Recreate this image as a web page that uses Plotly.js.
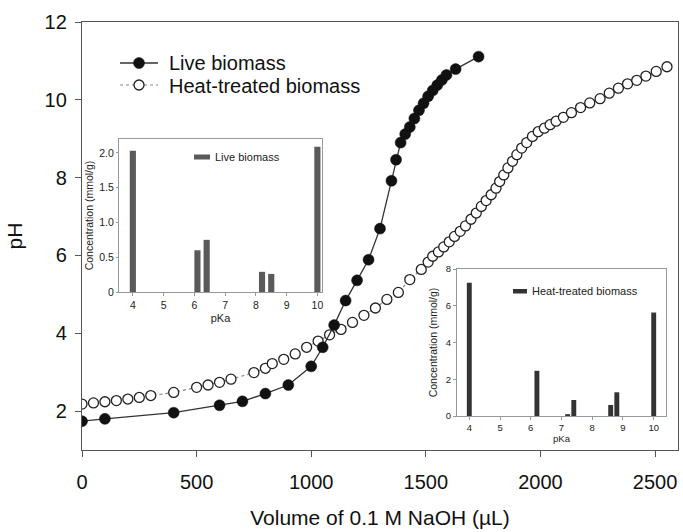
<!DOCTYPE html>
<html>
<head>
<meta charset="utf-8">
<script src="https://cdn.plot.ly/plotly-3.0.1.min.js"></script>
<style>html,body{margin:0;padding:0;background:#fff;}#chart{width:683px;height:532px;}</style>
</head>
<body>
<div id="chart"></div>
<script>
// Main titration curves
const liveVolume = [0, 100, 400, 600, 700, 800, 900, 1000, 1050, 1100, 1150, 1200, 1250, 1300, 1350, 1370, 1390, 1410, 1430, 1450, 1470, 1490, 1510, 1530, 1550, 1570, 1590, 1630, 1730];
const livePH = [1.74, 1.80, 1.96, 2.15, 2.25, 2.45, 2.67, 3.15, 3.64, 4.21, 4.84, 5.36, 5.89, 6.69, 7.92, 8.46, 8.90, 9.12, 9.30, 9.52, 9.73, 9.91, 10.09, 10.24, 10.38, 10.51, 10.64, 10.79, 11.11];

const heatVolume = [0, 50, 100, 150, 200, 250, 300, 400, 500, 550, 600, 650, 750, 800, 830, 880, 930, 980, 1030, 1080, 1130, 1180, 1230, 1280, 1330, 1380, 1430, 1480, 1510, 1530, 1555, 1578, 1602, 1625, 1650, 1673, 1697, 1720, 1742, 1763, 1785, 1806, 1822, 1840, 1858, 1878, 1897, 1918, 1940, 1965, 1990, 2017, 2042, 2068, 2100, 2135, 2175, 2215, 2260, 2300, 2340, 2380, 2420, 2460, 2505, 2552];
const heatPH = [2.18, 2.21, 2.24, 2.27, 2.31, 2.35, 2.40, 2.48, 2.61, 2.67, 2.74, 2.82, 2.99, 3.10, 3.22, 3.33, 3.47, 3.64, 3.80, 3.96, 4.10, 4.28, 4.46, 4.65, 4.87, 5.05, 5.38, 5.64, 5.83, 5.98, 6.09, 6.22, 6.35, 6.49, 6.62, 6.76, 6.93, 7.09, 7.26, 7.41, 7.56, 7.73, 7.90, 8.07, 8.25, 8.42, 8.59, 8.76, 8.90, 9.06, 9.18, 9.27, 9.36, 9.45, 9.55, 9.67, 9.80, 9.92, 10.03, 10.17, 10.30, 10.41, 10.50, 10.61, 10.73, 10.85];

// Inset: live biomass pKa distribution
const livePKa = [4.0, 6.1, 6.4, 8.2, 8.5, 10.0];
const liveConc = [2.03, 0.60, 0.75, 0.29, 0.26, 2.09];

// Inset: heat-treated biomass pKa distribution
const heatPKa = [4.0, 6.2, 7.2, 7.4, 8.6, 8.8, 10.0];
const heatConc = [7.25, 2.46, 0.10, 0.87, 0.60, 1.29, 5.63];

const mainTitles = {x: 'Volume of 0.1 M NaOH (µL)', y: 'pH'};
const insetTitles = {x: 'pKa', y: 'Concentration (mmol/g)'};
const seriesNames = ['Live biomass', 'Heat-treated biomass'];

const FONT = 'Liberation Sans, Arial, sans-serif';

const traces = [
  {
    x: heatVolume, y: heatPH, type: 'scatter', mode: 'lines+markers',
    name: seriesNames[1], showlegend: false,
    line: {color: '#888', width: 1.2, dash: 'dot'},
    marker: {symbol: 'circle', size: 10, color: '#fff', line: {color: '#222', width: 1.3}},
    xaxis: 'x', yaxis: 'y'
  },
  {
    x: liveVolume, y: livePH, type: 'scatter', mode: 'lines+markers',
    name: seriesNames[0], showlegend: false,
    line: {color: '#333', width: 1.3},
    marker: {symbol: 'circle', size: 11, color: '#111', line: {color: '#111', width: 0.5}},
    xaxis: 'x', yaxis: 'y'
  },
  {
    x: livePKa, y: liveConc, type: 'bar', width: 0.2, showlegend: false,
    marker: {color: '#5a5a5a'}, xaxis: 'x2', yaxis: 'y2', name: seriesNames[0]
  },
  {
    x: heatPKa, y: heatConc, type: 'bar', width: 0.16, showlegend: false,
    marker: {color: '#333'}, xaxis: 'x3', yaxis: 'y3', name: seriesNames[1]
  }
];

function px2x(p) { return (p - 82) / 596; }
function py2y(p) { return (450 - p) / 428; }

const insetAxis = (extra) => Object.assign({
  showline: true, mirror: true, linecolor: '#999', linewidth: 1,
  ticks: 'outside', ticklen: 3, tickcolor: '#999', showgrid: false, zeroline: false,
  tickfont: {family: FONT, size: 10.5, color: '#222'}
}, extra);

const legendShapes = [
  // main legend row 1 (Live biomass)
  {type: 'line', xref: 'paper', yref: 'paper', x0: px2x(120), x1: px2x(158), y0: py2y(63), y1: py2y(63),
   line: {color: '#333', width: 1.3}},
  {type: 'circle', xref: 'paper', yref: 'paper', x0: px2x(133.5), x1: px2x(144.5), y0: py2y(68.5), y1: py2y(57.5),
   fillcolor: '#111', line: {color: '#111', width: 0.5}},
  // main legend row 2 (Heat-treated biomass)
  {type: 'line', xref: 'paper', yref: 'paper', x0: px2x(120), x1: px2x(158), y0: py2y(85), y1: py2y(85),
   line: {color: '#888', width: 1.2, dash: 'dot'}},
  {type: 'circle', xref: 'paper', yref: 'paper', x0: px2x(134), x1: px2x(144), y0: py2y(90), y1: py2y(80),
   fillcolor: '#fff', line: {color: '#222', width: 1.3}},
  // inset legends
  {type: 'rect', xref: 'paper', yref: 'paper', x0: px2x(194), x1: px2x(210), y0: py2y(159.5), y1: py2y(154.5),
   fillcolor: '#5a5a5a', line: {width: 0}},
  {type: 'rect', xref: 'paper', yref: 'paper', x0: px2x(513), x1: px2x(527), y0: py2y(293.5), y1: py2y(289),
   fillcolor: '#333', line: {width: 0}}
];

const legendTexts = [
  {xref: 'paper', yref: 'paper', x: px2x(167), y: py2y(63), xanchor: 'left', yanchor: 'middle',
   text: seriesNames[0], showarrow: false, font: {family: FONT, size: 20, color: '#111'}},
  {xref: 'paper', yref: 'paper', x: px2x(167), y: py2y(86), xanchor: 'left', yanchor: 'middle',
   text: seriesNames[1], showarrow: false, font: {family: FONT, size: 20, color: '#111'}},
  {xref: 'paper', yref: 'paper', x: px2x(213), y: py2y(157), xanchor: 'left', yanchor: 'middle',
   text: seriesNames[0], showarrow: false, font: {family: FONT, size: 11, color: '#222'}},
  {xref: 'paper', yref: 'paper', x: px2x(530), y: py2y(291), xanchor: 'left', yanchor: 'middle',
   text: seriesNames[1], showarrow: false, font: {family: FONT, size: 11, color: '#222'}}
];

const layout = {
  width: 683, height: 532,
  margin: {l: 82, r: 5, t: 22, b: 82},
  paper_bgcolor: '#fff', plot_bgcolor: 'rgba(0,0,0,0)',
  font: {family: FONT, color: '#111'},
  showlegend: false,
  xaxis: {
    domain: [0, 1], range: [0, 2600], tickvals: [0, 500, 1000, 1500, 2000, 2500],
    showline: true, mirror: true, linecolor: '#555', linewidth: 1.2,
    ticks: 'outside', ticklen: 6, tickcolor: '#555', showgrid: false, zeroline: false,
    ticklabelstandoff: 8,
    tickfont: {family: FONT, size: 20, color: '#111'},
    title: {text: mainTitles.x, font: {family: FONT, size: 21, color: '#111'}, standoff: 18},
    anchor: 'y'
  },
  yaxis: {
    domain: [0, 1], range: [1, 12], tickvals: [2, 4, 6, 8, 10, 12],
    showline: true, mirror: true, linecolor: '#555', linewidth: 1.2,
    ticks: 'outside', ticklen: 6, tickcolor: '#555', showgrid: false, zeroline: false,
    ticklabelstandoff: 4,
    tickfont: {family: FONT, size: 20, color: '#111'},
    title: {text: mainTitles.y, font: {family: FONT, size: 21, color: '#111'}, standoff: 16},
    anchor: 'x'
  },
  xaxis2: insetAxis({
    domain: [px2x(119), px2x(322)], range: [3.55, 10.15], tickvals: [4, 5, 6, 7, 8, 9, 10],
    anchor: 'y2',
    title: {text: insetTitles.x, font: {family: FONT, size: 11, color: '#222'}, standoff: 4}
  }),
  yaxis2: insetAxis({
    domain: [py2y(292), py2y(139)], range: [0, 2.2], ticklen: 2,
    tickvals: [0, 0.5, 1.0, 1.5, 2.0], ticktext: ['0', '0.5', '1.0', '1.5', '2.0'],
    anchor: 'x2',
    title: {text: insetTitles.y, font: {family: FONT, size: 10.5, color: '#222'}, standoff: 3}
  }),
  xaxis3: insetAxis({
    domain: [px2x(457), px2x(666)], range: [3.6, 10.4], tickvals: [4, 5, 6, 7, 8, 9, 10],
    anchor: 'y3', tickfont: {family: FONT, size: 9.5, color: '#222'},
    title: {text: insetTitles.x, font: {family: FONT, size: 9.5, color: '#222'}, standoff: 2}
  }),
  yaxis3: insetAxis({
    domain: [py2y(416), py2y(269)], range: [0, 8], tickvals: [0, 2, 4, 6, 8],
    anchor: 'x3', tickfont: {family: FONT, size: 9.5, color: '#222'},
    title: {text: insetTitles.y, font: {family: FONT, size: 10.5, color: '#222'}, standoff: 6}
  }),
  shapes: legendShapes,
  annotations: legendTexts
};

Plotly.newPlot('chart', traces, layout, {displayModeBar: false, staticPlot: true});
</script>
</body>
</html>
